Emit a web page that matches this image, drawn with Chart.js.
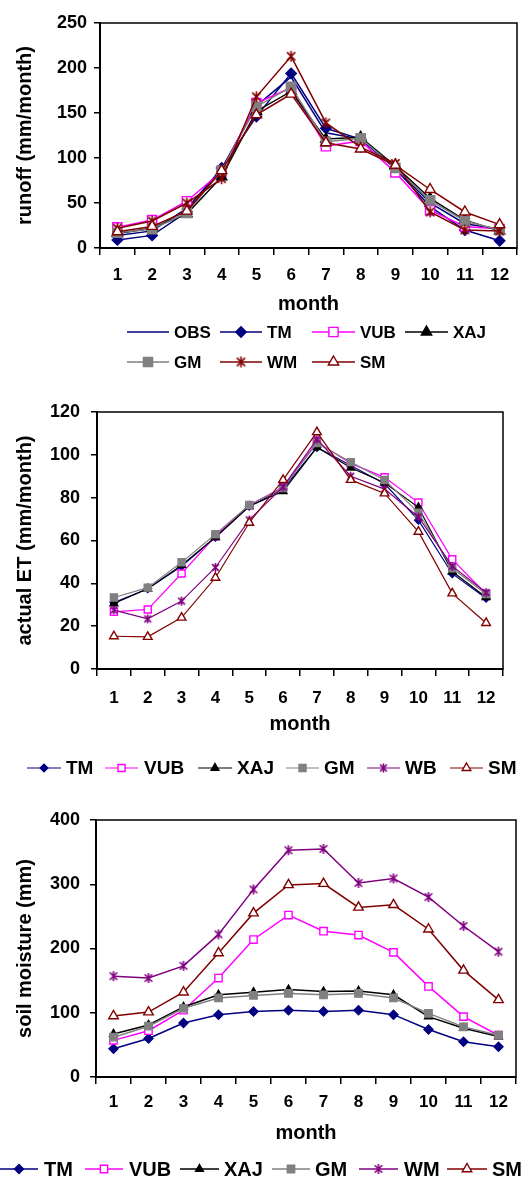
<!DOCTYPE html>
<html><head><meta charset="utf-8">
<script src="https://cdn.jsdelivr.net/npm/chart.js"></script>
<style>
html,body{margin:0;padding:0;background:#fff;}
#wrap{position:relative;width:528px;height:1178px;overflow:hidden;background:#fff;}
canvas{position:absolute;left:0;}
</style></head><body>
<div id="wrap">
<canvas id="c1" width="528" height="380" style="top:0px"></canvas>
<canvas id="c2" width="528" height="410" style="top:380px"></canvas>
<canvas id="c3" width="528" height="388" style="top:790px"></canvas>
</div>
<script>
// ---------- data ----------
const months = ['1','2','3','4','5','6','7','8','9','10','11','12'];

// Chart 1: runoff (mm/month)
const runoffOBS = [14, 19, 44, 88, 158, 190, 128, 121, 89, 50, 27, 21];
const runoffTM  = [9, 14, 40, 89, 146, 194, 133, 121, 88, 46, 20, 8];
const runoffVUB = [23, 31, 52, 85, 161, 178, 113, 119, 84, 42, 24, 21];
const runoffXAJ = [16, 22, 38, 79, 152, 174, 121, 123, 91, 55, 31, 19];
const runoffGM  = [17, 21, 39, 86, 157, 179, 118, 122, 89, 53, 30, 20];
const runoffWM  = [22, 30, 50, 77, 168, 213, 139, 112, 94, 40, 20, 19];
const runoffSM  = [18, 24, 41, 86, 148, 171, 117, 110, 92, 65, 40, 26];

// Chart 2: actual ET (mm/month)
const etTM  = [31, 37.5, 48, 61.5, 76, 84, 103.5, 95, 86.5, 69.5, 44.5, 33];
const etVUB = [26.7, 27.8, 44.6, 62, 76.5, 85, 106, 96, 89.5, 77.7, 51.2, 35];
const etXAJ = [30.6, 37.5, 48.5, 61.5, 76, 83, 103.5, 94, 87, 75.5, 45.5, 33.5];
const etGM  = [33.4, 38, 49.8, 62.9, 76.6, 84.5, 105.5, 96.6, 88.3, 73, 47, 35];
const etWB  = [27.5, 23.4, 31.7, 47.4, 69.6, 85, 107.3, 90, 84, 71, 48, 35.7];
const etSM  = [15.3, 15, 24, 42.6, 68.3, 88.3, 110.6, 88.3, 82, 64.1, 35.3, 21.5];

// Chart 3: soil moisture (mm)
const smTM  = [44, 60, 84, 97, 102, 104, 102, 104, 97, 74, 55, 47];
const smVUB = [57, 72, 104, 154, 214, 252, 227, 221, 194, 141, 94, 65];
const smXAJ = [67, 81, 109, 128, 132, 136, 133, 134, 128, 94, 76, 63];
const smGM  = [62, 79, 107, 123, 127, 130, 128, 130, 123, 99, 78, 65];
const smWM  = [157, 154, 173, 222, 292, 353, 355, 302, 309, 280, 235, 195];
const smSM  = [95, 101, 132, 193, 255, 299, 301, 264, 268, 230, 166, 120];

const runoffTicks = {min: 0, max: 250, step: 50};
const etTicks = {min: 0, max: 120, step: 20};
const smTicks = {min: 0, max: 400, step: 100};

// ---------- styles ----------
const FONT = "'Liberation Sans', Arial, sans-serif";
const NAVY = '#000080', MAG = '#FF00FF', BLK = '#000000', GRAY = '#808080', DRED = '#800000', PURP = '#800080';

function starImg(color, r, lw) {
  const s = Math.ceil(2 * r + lw + 2);
  const c = document.createElement('canvas');
  c.width = s; c.height = s;
  const g = c.getContext('2d');
  g.strokeStyle = color; g.lineWidth = lw;
  const m = s / 2, d = r * 0.75;
  g.beginPath();
  g.moveTo(m - d, m - d); g.lineTo(m + d, m + d);
  g.moveTo(m + d, m - d); g.lineTo(m - d, m + d);
  g.moveTo(m, m - r); g.lineTo(m, m + r);
  g.stroke();
  return c;
}

function mkDs(label, data, color, style, open, r, lw, n, idx) {
  const ps = style === 'star' ? starImg(color, r, 1.6) : style;
  return {
    label, data,
    borderColor: color, backgroundColor: color, borderWidth: lw,
    pointStyle: style === 'none' ? 'circle' : ps,
    pointRadius: style === 'none' ? 0 : r,
    pointHoverRadius: style === 'none' ? 0 : r,
    pointBackgroundColor: open ? '#ffffff' : color,
    pointBorderColor: color, pointBorderWidth: 1.4,
    tension: 0, fill: false, order: n - idx,
    _style: style, _open: open, _r: r
  };
}

function drawMarker(ctx, ds, x, y) {
  const st = ds._style, r = ds._r;
  if (st === 'none') return;
  if (st === 'star') {
    const img = ds.pointStyle;
    ctx.drawImage(img, x - img.width / 2, y - img.height / 2);
    return;
  }
  ctx.save();
  ctx.fillStyle = ds._open ? '#ffffff' : ds.borderColor;
  ctx.strokeStyle = ds.borderColor;
  ctx.lineWidth = 1.4;
  ctx.beginPath();
  if (st === 'rectRot') {
    ctx.moveTo(x, y - r); ctx.lineTo(x + r, y); ctx.lineTo(x, y + r); ctx.lineTo(x - r, y);
  } else if (st === 'rect') {
    const s = r * Math.SQRT1_2;
    ctx.rect(x - s, y - s, 2 * s, 2 * s);
  } else if (st === 'triangle') {
    const h = r;
    ctx.moveTo(x, y - h);
    ctx.lineTo(x + h * Math.cos(Math.PI / 6), y + h * 0.5);
    ctx.lineTo(x - h * Math.cos(Math.PI / 6), y + h * 0.5);
  }
  ctx.closePath();
  ctx.fill(); ctx.stroke();
  ctx.restore();
}

const framePlugin = {
  id: 'frame',
  beforeDatasetsDraw(chart) {
    const {ctx, chartArea: a} = chart;
    ctx.save();
    ctx.strokeStyle = '#000'; ctx.lineWidth = 1.5;
    ctx.strokeRect(a.left, a.top, a.right - a.left, a.bottom - a.top);
    ctx.restore();
  }
};

const legendPlugin = {
  id: 'gridLegend',
  afterDraw(chart, args, opts) {
    const ctx = chart.ctx;
    ctx.save();
    ctx.font = 'bold ' + opts.size + 'px ' + FONT;
    ctx.textBaseline = 'middle';
    ctx.textAlign = 'left';
    opts.items.forEach(it => {
      const ds = chart.data.datasets[it.i];
      ctx.strokeStyle = ds.borderColor;
      ctx.lineWidth = opts.lw;
      ctx.beginPath(); ctx.moveTo(it.x1, it.y); ctx.lineTo(it.x2, it.y); ctx.stroke();
      drawMarker(ctx, ds, (it.x1 + it.x2) / 2, it.y);
      ctx.fillStyle = '#000';
      ctx.fillText(ds.label, it.tx, it.y + 1);
    });
    ctx.restore();
  }
};

function makeChart(id, g) {
  return new Chart(document.getElementById(id), {
    type: 'line',
    data: {labels: months, datasets: g.datasets},
    options: {
      responsive: false, animation: false, devicePixelRatio: 1,
      events: [],
      layout: {padding: {left: 0, right: g.padRight, top: g.padTop, bottom: g.padBottom}},
      plugins: {
        legend: {display: false}, tooltip: {enabled: false},
        gridLegend: g.legend
      },
      scales: {
        x: {
          type: 'category', offset: true,
          grid: {offset: true, drawOnChartArea: false, drawTicks: true, tickLength: 7, color: '#000', lineWidth: 1.5},
          border: {display: true, color: '#000', width: 2},
          ticks: {color: '#000', font: {family: FONT, size: 17, weight: 'bold'}, padding: g.xPad, maxRotation: 0, autoSkip: false},
          title: {display: true, text: 'month', color: '#000', font: {family: FONT, size: 20, weight: 'bold'}, padding: {top: 0, bottom: 0}},
          afterFit: s => { s.height = g.xH; }
        },
        y: {
          min: g.ticks.min, max: g.ticks.max,
          grid: {drawOnChartArea: false, drawTicks: true, tickLength: 6, color: '#000', lineWidth: 1.5},
          border: {display: true, color: '#000', width: 2},
          ticks: {stepSize: g.ticks.step, color: '#000', font: {family: FONT, size: 18, weight: 'bold'}, padding: g.yPad},
          title: {display: true, text: g.yTitle, color: '#000', font: {family: FONT, size: 20, weight: 'bold'}, padding: {top: 13, bottom: 0}},
          afterFit: s => { s.width = g.left; }
        }
      }
    },
    plugins: [framePlugin, legendPlugin]
  });
}

// ---------- chart 1 ----------
const ds1 = [
  mkDs('OBS', runoffOBS, NAVY, 'none', false, 0, 1.5, 7, 0),
  mkDs('TM', runoffTM, NAVY, 'rectRot', false, 5.2, 1.5, 7, 1),
  mkDs('VUB', runoffVUB, MAG, 'rect', true, 6.5, 1.5, 7, 2),
  mkDs('XAJ', runoffXAJ, BLK, 'triangle', false, 6, 1.5, 7, 3),
  mkDs('GM', runoffGM, GRAY, 'rect', false, 6.5, 1.5, 7, 4),
  mkDs('WM', runoffWM, DRED, 'star', false, 5.5, 1.5, 7, 5),
  mkDs('SM', runoffSM, DRED, 'triangle', true, 6, 1.5, 7, 6)
];
makeChart('c1', {
  datasets: ds1, ticks: runoffTicks, yTitle: 'runoff (mm/month)',
  left: 100, padRight: 11, padTop: 23, padBottom: 64, xH: 68, xPad: 10, yPad: 7,
  legend: {size: 17, lw: 1.5, items: [
    {i: 0, x1: 127, x2: 169, tx: 174, y: 332},
    {i: 1, x1: 220, x2: 262, tx: 267, y: 332},
    {i: 2, x1: 312, x2: 355, tx: 360, y: 332},
    {i: 3, x1: 405, x2: 448, tx: 453, y: 332},
    {i: 4, x1: 127, x2: 169, tx: 174, y: 362},
    {i: 5, x1: 220, x2: 262, tx: 267, y: 362},
    {i: 6, x1: 312, x2: 355, tx: 360, y: 362}
  ]}
});

// ---------- chart 2 ----------
const ds2 = [
  mkDs('TM', etTM, NAVY, 'rectRot', false, 3.8, 1.2, 6, 0),
  mkDs('VUB', etVUB, MAG, 'rect', true, 5, 1.2, 6, 1),
  mkDs('XAJ', etXAJ, BLK, 'triangle', false, 4.5, 1.2, 6, 2),
  mkDs('GM', etGM, GRAY, 'rect', false, 5, 1.2, 6, 3),
  mkDs('WB', etWB, PURP, 'star', false, 4.5, 1.2, 6, 4),
  mkDs('SM', etSM, DRED, 'triangle', true, 5, 1.2, 6, 5)
];
makeChart('c2', {
  datasets: ds2, ticks: etTicks, yTitle: 'actual ET (mm/month)',
  left: 97, padRight: 25, padTop: 32, padBottom: 54, xH: 67, xPad: 12, yPad: 11,
  legend: {size: 19, lw: 1.2, items: [
    {i: 0, x1: 27, x2: 61, tx: 66, y: 388},
    {i: 1, x1: 105, x2: 138, tx: 144, y: 388},
    {i: 2, x1: 198, x2: 232, tx: 237, y: 388},
    {i: 3, x1: 286, x2: 319, tx: 324, y: 388},
    {i: 4, x1: 367, x2: 400, tx: 405, y: 388},
    {i: 5, x1: 450, x2: 483, tx: 488, y: 388}
  ]}
});

// ---------- chart 3 ----------
const ds3 = [
  mkDs('TM', smTM, NAVY, 'rectRot', false, 4.5, 1.5, 6, 0),
  mkDs('VUB', smVUB, MAG, 'rect', true, 5.2, 1.5, 6, 1),
  mkDs('XAJ', smXAJ, BLK, 'triangle', false, 4.5, 1.5, 6, 2),
  mkDs('GM', smGM, GRAY, 'rect', false, 5.2, 1.5, 6, 3),
  mkDs('WM', smWM, PURP, 'star', false, 5, 1.5, 6, 4),
  mkDs('SM', smSM, DRED, 'triangle', true, 5.5, 1.5, 6, 5)
];
makeChart('c3', {
  datasets: ds3, ticks: smTicks, yTitle: 'soil moisture (mm)',
  left: 96, padRight: 12, padTop: 30, padBottom: 33, xH: 68, xPad: 8, yPad: 10,
  legend: {size: 20, lw: 1.5, items: [
    {i: 0, x1: 0, x2: 38, tx: 44, y: 379},
    {i: 1, x1: 85, x2: 123, tx: 129, y: 379},
    {i: 2, x1: 180, x2: 219, tx: 224, y: 379},
    {i: 3, x1: 272, x2: 310, tx: 315, y: 379},
    {i: 4, x1: 359, x2: 398, tx: 404, y: 379},
    {i: 5, x1: 447, x2: 487, tx: 492, y: 379}
  ]}
});
</script>
</body></html>
